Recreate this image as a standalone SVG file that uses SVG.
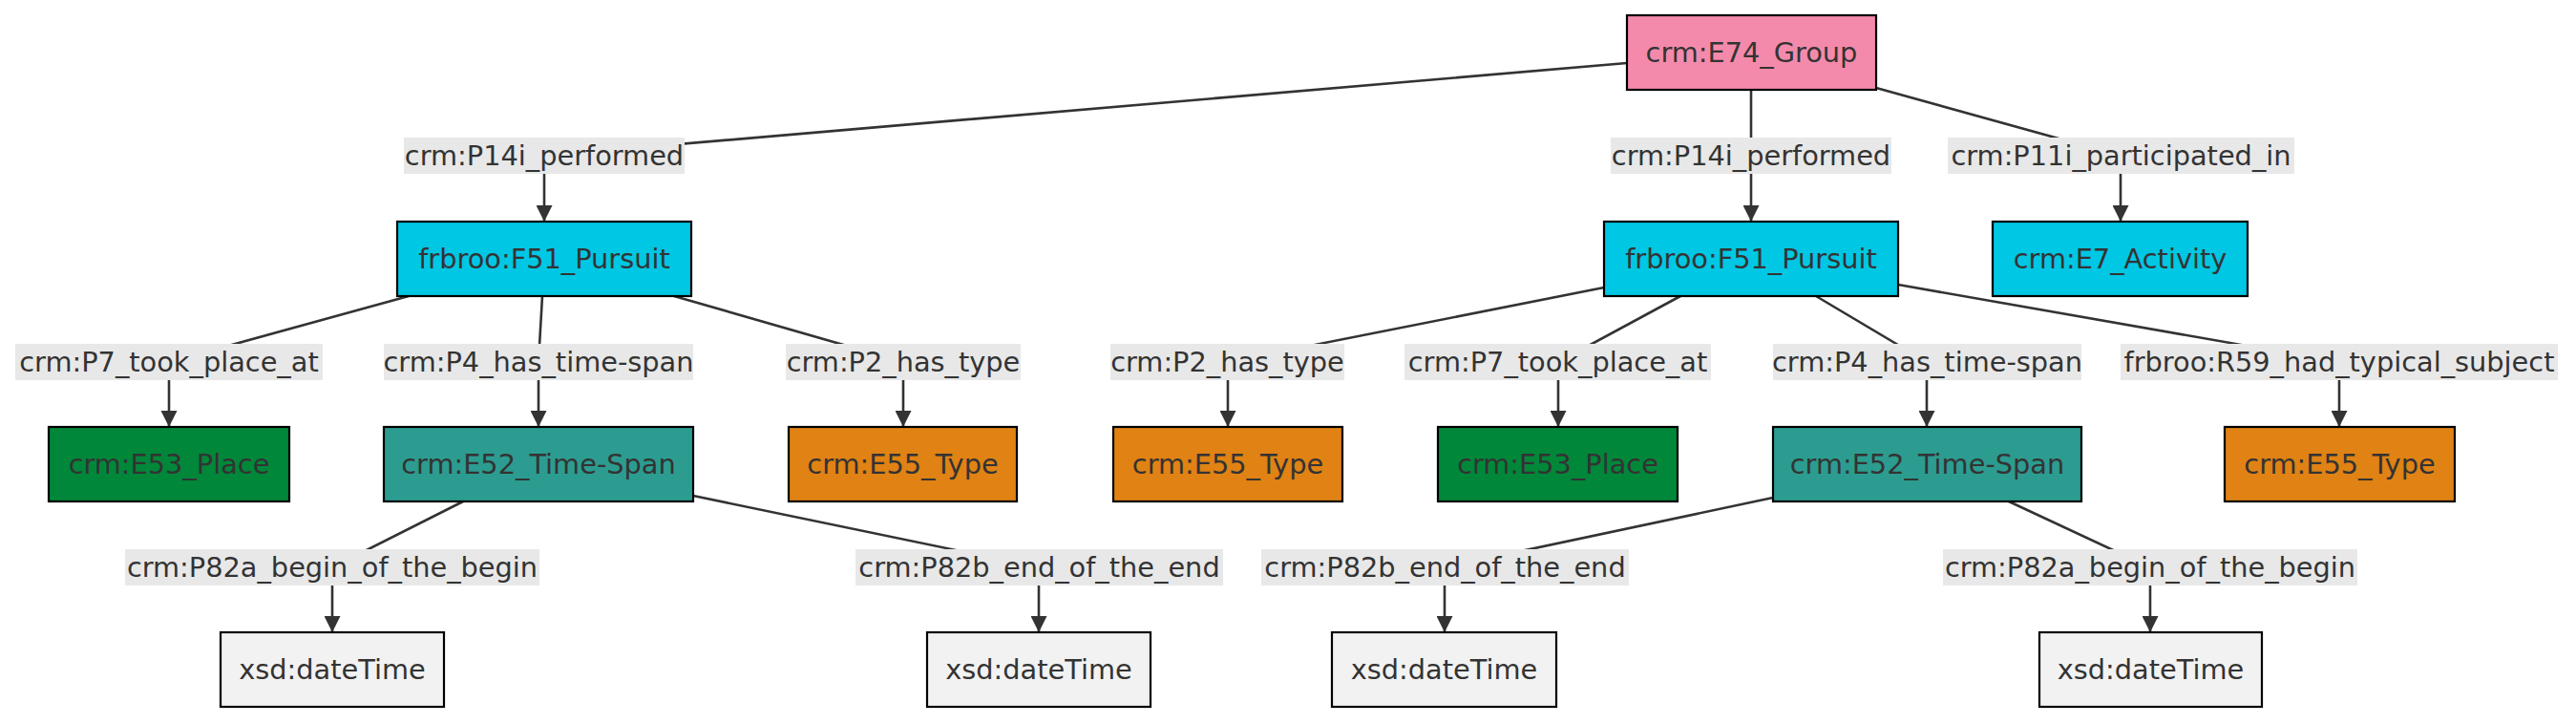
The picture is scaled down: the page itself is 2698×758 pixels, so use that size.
<svg xmlns="http://www.w3.org/2000/svg" width="2698" height="758" viewBox="0 0 2698 758">
<defs>
<style>
.n rect{stroke:#000;stroke-width:2.2}
.n text,.l text{font-family:"DejaVu Sans",Verdana,sans-serif;font-size:28.8px;fill:#333;text-anchor:middle}
.l rect{fill:#e8e8e8;stroke:none}
.e path{fill:none;stroke:#333;stroke-width:2.6}
.pink{fill:#f48aab}.cyan{fill:#00c7e3}.green{fill:#00873a}.teal{fill:#2c9c90}.orange{fill:#e08214}.grey{fill:#f2f2f2}
</style>
<marker id="ah" viewBox="0 0 10 10" refX="10" refY="5" markerUnits="userSpaceOnUse" markerWidth="17" markerHeight="17" orient="auto">
<path d="M0,0 L10,5 L0,10 z" fill="#333"/>
</marker>
</defs>
<rect width="2698" height="758" fill="#fff"/>
<g id="connectors" class="e">
<path d="M1704,66 L570,163 L570,232" marker-end="url(#ah)"/>
<path d="M1834,94 L1834,163 L1834,232" marker-end="url(#ah)"/>
<path d="M1965,92 L2221,163 L2221,232" marker-end="url(#ah)"/>
<path d="M428,310 L177,379 L177,447" marker-end="url(#ah)"/>
<path d="M568,310 L564,379 L564,447" marker-end="url(#ah)"/>
<path d="M706,310 L946,379 L946,447" marker-end="url(#ah)"/>
<path d="M1680,301 L1286,379 L1286,447" marker-end="url(#ah)"/>
<path d="M1760,310 L1632,379 L1632,447" marker-end="url(#ah)"/>
<path d="M1902,310 L2018,379 L2018,447" marker-end="url(#ah)"/>
<path d="M1988,298 L2450,379 L2450,447" marker-end="url(#ah)"/>
<path d="M485,525 L348,594 L348,662" marker-end="url(#ah)"/>
<path d="M726,519 L1088,594 L1088,662" marker-end="url(#ah)"/>
<path d="M1857,521 L1513,594 L1513,662" marker-end="url(#ah)"/>
<path d="M2104,525 L2252,594 L2252,662" marker-end="url(#ah)"/>
</g>
<g id="edge-labels" class="l">
<g id="lbl-p14i-l"><rect x="423" y="144" width="294" height="38"/><text x="570" y="173">crm:P14i_performed</text></g>
<g id="lbl-p14i-r"><rect x="1687" y="144" width="294" height="38"/><text x="1834" y="173">crm:P14i_performed</text></g>
<g id="lbl-p11i"><rect x="2040" y="144" width="363" height="38"/><text x="2221.5" y="173">crm:P11i_participated_in</text></g>
<g id="lbl-p7-l"><rect x="16" y="360" width="322" height="38"/><text x="177" y="389">crm:P7_took_place_at</text></g>
<g id="lbl-p4-l"><rect x="402" y="360" width="324" height="38"/><text x="564" y="389">crm:P4_has_time-span</text></g>
<g id="lbl-p2-l"><rect x="823" y="360" width="246" height="38"/><text x="946" y="389">crm:P2_has_type</text></g>
<g id="lbl-p2-r"><rect x="1163" y="360" width="245" height="38"/><text x="1285.5" y="389">crm:P2_has_type</text></g>
<g id="lbl-p7-r"><rect x="1471" y="360" width="321" height="38"/><text x="1631.5" y="389">crm:P7_took_place_at</text></g>
<g id="lbl-p4-r"><rect x="1857" y="360" width="323" height="38"/><text x="2018.5" y="389">crm:P4_has_time-span</text></g>
<g id="lbl-r59"><rect x="2221" y="360" width="458" height="38"/><text x="2450" y="389">frbroo:R59_had_typical_subject</text></g>
<g id="lbl-p82a-l"><rect x="131" y="575" width="434" height="38"/><text x="348" y="604">crm:P82a_begin_of_the_begin</text></g>
<g id="lbl-p82b-l"><rect x="896" y="575" width="385" height="38"/><text x="1088.5" y="604">crm:P82b_end_of_the_end</text></g>
<g id="lbl-p82b-r"><rect x="1321" y="575" width="385" height="38"/><text x="1513.5" y="604">crm:P82b_end_of_the_end</text></g>
<g id="lbl-p82a-r"><rect x="2035" y="575" width="434" height="38"/><text x="2252" y="604">crm:P82a_begin_of_the_begin</text></g>
</g>
<g id="n-e74" class="n"><rect class="pink" x="1704" y="16" width="261" height="78"/><text x="1834.5" y="65">crm:E74_Group</text></g>
<g id="n-f51-l" class="n"><rect class="cyan" x="416" y="232" width="308" height="78"/><text x="570" y="281">frbroo:F51_Pursuit</text></g>
<g id="n-f51-r" class="n"><rect class="cyan" x="1680" y="232" width="308" height="78"/><text x="1834" y="281">frbroo:F51_Pursuit</text></g>
<g id="n-e7" class="n"><rect class="cyan" x="2087" y="232" width="267" height="78"/><text x="2220.5" y="281">crm:E7_Activity</text></g>
<g id="n-e53-l" class="n"><rect class="green" x="51" y="447" width="252" height="78"/><text x="177" y="496">crm:E53_Place</text></g>
<g id="n-e52-l" class="n"><rect class="teal" x="402" y="447" width="324" height="78"/><text x="564" y="496">crm:E52_Time-Span</text></g>
<g id="n-e55-l" class="n"><rect class="orange" x="826" y="447" width="239" height="78"/><text x="945.5" y="496">crm:E55_Type</text></g>
<g id="n-e55-r1" class="n"><rect class="orange" x="1166" y="447" width="240" height="78"/><text x="1286" y="496">crm:E55_Type</text></g>
<g id="n-e53-r" class="n"><rect class="green" x="1506" y="447" width="251" height="78"/><text x="1631.5" y="496">crm:E53_Place</text></g>
<g id="n-e52-r" class="n"><rect class="teal" x="1857" y="447" width="323" height="78"/><text x="2018.5" y="496">crm:E52_Time-Span</text></g>
<g id="n-e55-r2" class="n"><rect class="orange" x="2330" y="447" width="241" height="78"/><text x="2450.5" y="496">crm:E55_Type</text></g>
<g id="n-xsd-1" class="n"><rect class="grey" x="231" y="662" width="234" height="78"/><text x="348" y="711">xsd:dateTime</text></g>
<g id="n-xsd-2" class="n"><rect class="grey" x="971" y="662" width="234" height="78"/><text x="1088" y="711">xsd:dateTime</text></g>
<g id="n-xsd-3" class="n"><rect class="grey" x="1395" y="662" width="235" height="78"/><text x="1512.5" y="711">xsd:dateTime</text></g>
<g id="n-xsd-4" class="n"><rect class="grey" x="2136" y="662" width="233" height="78"/><text x="2252.5" y="711">xsd:dateTime</text></g>
</svg>
